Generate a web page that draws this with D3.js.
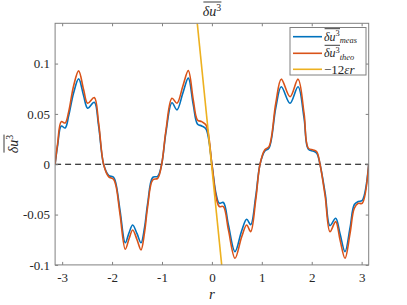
<!DOCTYPE html>
<html>
<head>
<meta charset="utf-8">
<script src="https://cdn.jsdelivr.net/npm/d3@7"></script>
<style>
  body { margin: 0; background: #fff; }
  svg { display: block; }
  .tick text { font-family: "Liberation Serif", "DejaVu Serif", serif; font-size: 13px; fill: #262626; }
</style>
</head>
<body>
<svg width="407" height="305"></svg>
<script>
  // sample positions r and the two curves
  var rVals = [-3.1416, -3.09, -3.018, -2.94, -2.87, -2.77, -2.67, -2.57, -2.49, -2.357, -2.27, -2.17,
    -2.07, -1.97, -1.92, -1.84, -1.735, -1.66, -1.587, -1.50, -1.42, -1.35, -1.287, -1.186, -1.086, -1.006,
    -0.92, -0.80, -0.70, -0.58, -0.473, -0.373, -0.29, -0.205, -0.118, 0,
    0.082, 0.148, 0.23, 0.33, 0.463, 0.597, 0.697, 0.777, 0.878, 0.964,
    1.058, 1.144, 1.28, 1.39, 1.565, 1.726, 1.846, 1.93, 2.03, 2.1, 2.166,
    2.27, 2.366, 2.48, 2.567, 2.667, 2.768, 2.854, 2.934, 3.01, 3.1416];

  var theoVals = [0, 0.021, 0.0423, 0.041, 0.052, 0.078, 0.0927, 0.074, 0.0606, 0.0662, 0.041, 0,
    -0.0123, -0.015, -0.022, -0.05, -0.0845, -0.074, -0.0653, -0.075, -0.0852, -0.068, -0.042, -0.0156, -0.014, 0,
    0.034, 0.0656, 0.0606, 0.078, 0.093, 0.064, 0.044, 0.0423, 0.039, 0,
    -0.032, -0.042, -0.042, -0.065, -0.0934, -0.072, -0.0603, -0.067, -0.0355, 0,
    0.0142, 0.0175, 0.0606, 0.0845, 0.067, 0.0845, 0.0507, 0.016, 0.0142, 0.0125, 0,
    -0.032, -0.067, -0.057, -0.075, -0.0934, -0.0686, -0.0437, -0.0388, -0.0388, 0];

  var measVals = [0, 0.019, 0.038, 0.036, 0.048, 0.071, 0.0848, 0.068, 0.0557, 0.0616, 0.038, 0,
    -0.011, -0.013, -0.02, -0.046, -0.078, -0.068, -0.0603, -0.069, -0.078, -0.063, -0.039, -0.013, -0.012, 0,
    0.032, 0.061, 0.054, 0.071, 0.0855, 0.059, 0.04, 0.038, 0.035, 0,
    -0.029, -0.0388, -0.038, -0.06, -0.0868, -0.066, -0.0547, -0.06, -0.032, 0,
    0.013, 0.016, 0.056, 0.077, 0.0606, 0.077, 0.046, 0.015, 0.013, 0.011, 0,
    -0.029, -0.061, -0.0537, -0.069, -0.0868, -0.063, -0.04, -0.037, -0.036, 0];

  // the -12*eps*r line, two end points
  var lineR = [-0.293, 0.196];
  var lineV = [0.14, -0.1];

  var xTicks = [-3, -2, -1, 0, 1, 2, 3];
  var yTicks = [-0.1, -0.05, 0, 0.05, 0.1];
  var yTickLabels = ['-0.1', '-0.05', '0', '0.05', '0.1'];

(function () {
  var serif = '"Liberation Serif", "DejaVu Serif", serif';
  var svg = d3.select('svg');

  var pl = 55.1, pr = 368.7, pt = 23.3, pb = 264.9;
  var x = d3.scaleLinear().domain([-Math.PI, Math.PI]).range([pl, pr]);
  var y = d3.scaleLinear().domain([-0.1, 0.14]).range([pb, pt]);

  svg.append('clipPath').attr('id', 'plot')
    .append('rect')
    .attr('x', pl).attr('y', pt)
    .attr('width', pr - pl).attr('height', pb - pt);

  var plot = svg.append('g').attr('clip-path', 'url(#plot)');

  // dashed zero line
  plot.append('line')
    .attr('x1', x(-Math.PI)).attr('x2', x(Math.PI))
    .attr('y1', y(0)).attr('y2', y(0))
    .attr('stroke', '#000')
    .attr('stroke-width', 1.2)
    .attr('stroke-dasharray', '6,4');

  var line = d3.line()
    .x(function (d) { return x(d[0]); })
    .y(function (d) { return y(d[1]); })
    .curve(d3.curveCatmullRom.alpha(0.5));

  plot.append('path')
    .attr('d', line(d3.zip(rVals, measVals)))
    .attr('fill', 'none')
    .attr('stroke', '#0072BD')
    .attr('stroke-width', 1.6);

  plot.append('path')
    .attr('d', line(d3.zip(rVals, theoVals)))
    .attr('fill', 'none')
    .attr('stroke', '#D95319')
    .attr('stroke-width', 1.6);

  plot.append('path')
    .attr('d', d3.line().x(function (d) { return x(d[0]); }).y(function (d) { return y(d[1]); })(d3.zip(lineR, lineV)))
    .attr('fill', 'none')
    .attr('stroke', '#EDB120')
    .attr('stroke-width', 1.6);

  // axes, ticks pointing inwards
  var axisColor = '#808080';
  var gx = svg.append('g').attr('transform', 'translate(0,' + pb + ')')
    .call(d3.axisBottom(x).tickValues(xTicks).tickFormat(d3.format('d')).tickSizeInner(-3).tickSizeOuter(0).tickPadding(8));
  var gxTop = svg.append('g').attr('transform', 'translate(0,' + pt + ')')
    .call(d3.axisTop(x).tickValues(xTicks).tickFormat('').tickSizeInner(-3).tickSizeOuter(0));
  var gy = svg.append('g').attr('transform', 'translate(' + pl + ',0)')
    .call(d3.axisLeft(y).tickValues(yTicks).tickFormat(function (d, i) { return yTickLabels[i]; }).tickSizeInner(-3).tickSizeOuter(0).tickPadding(5));
  var gyRight = svg.append('g').attr('transform', 'translate(' + pr + ',0)')
    .call(d3.axisRight(y).tickValues(yTicks).tickFormat('').tickSizeInner(-3).tickSizeOuter(0));

  gx.selectAll('.tick text').text(function (d) { return String(d); });

  [gx, gxTop, gy, gyRight].forEach(function (g) {
    g.select('.domain').remove();
    g.selectAll('.tick line').attr('stroke', axisColor);
  });

  svg.append('rect')
    .attr('x', pl).attr('y', pt)
    .attr('width', pr - pl).attr('height', pb - pt)
    .attr('fill', 'none')
    .attr('stroke', axisColor)
    .attr('stroke-width', 1);

  // overlined "delta u^3" label, optional subscript
  function overLabel(parent, px, py, size, sub, anchor, angle) {
    var g = parent.append('g')
      .attr('transform', 'translate(' + px + ',' + py + ') rotate(' + (angle || 0) + ')');
    var t = g.append('text')
      .attr('font-family', serif)
      .attr('font-size', size)
      .attr('fill', '#262626');
    t.append('tspan').attr('font-style', 'italic').text('δu');
    t.append('tspan').attr('font-size', size * 0.7).attr('dy', -size * 0.36).text('3');
    var w = t.node().getComputedTextLength();
    if (sub) {
      t.append('tspan').attr('font-size', size * 0.7).attr('font-style', 'italic')
        .attr('dy', size * 0.56).text(sub);
    }
    var total = t.node().getComputedTextLength();
    var shift = anchor === 'middle' ? -total / 2 : 0;
    t.attr('x', shift);
    g.append('line')
      .attr('x1', shift + size * 0.05).attr('x2', shift + w + size * 0.02)
      .attr('y1', -size * 1.0).attr('y2', -size * 1.0)
      .attr('stroke', '#262626')
      .attr('stroke-width', 0.9);
    return g;
  }

  overLabel(svg, x(0), 16, 14, null, 'middle', 0);
  overLabel(svg, 18, (pt + pb) / 2, 14, null, 'middle', -90);

  svg.append('text')
    .attr('x', x(0)).attr('y', 299)
    .attr('text-anchor', 'middle')
    .attr('font-family', serif)
    .attr('font-size', 15)
    .attr('font-style', 'italic')
    .attr('fill', '#262626')
    .text('r');

  // legend
  var legend = svg.append('g');
  legend.append('rect')
    .attr('x', 290).attr('y', 27.5)
    .attr('width', 76).attr('height', 47.5)
    .attr('fill', '#fff')
    .attr('stroke', axisColor)
    .attr('stroke-width', 1);

  var legColors = ['#0072BD', '#D95319', '#EDB120'];
  var legY = [36.7, 53.3, 69.3];
  legColors.forEach(function (c, i) {
    legend.append('line')
      .attr('x1', 293).attr('x2', 322)
      .attr('y1', legY[i]).attr('y2', legY[i])
      .attr('stroke', c)
      .attr('stroke-width', 1.6);
  });
  overLabel(legend, 324, legY[0] + 4, 12, 'meas', 'start', 0);
  overLabel(legend, 324, legY[1] + 4, 12, 'theo', 'start', 0);
  var lt = legend.append('text')
    .attr('x', 324).attr('y', legY[2] + 4.5)
    .attr('font-family', serif)
    .attr('font-size', 13)
    .attr('fill', '#262626');
  lt.append('tspan').text('−12');
  lt.append('tspan').attr('font-style', 'italic').text('εr');
})();
</script>
</body>
</html>
